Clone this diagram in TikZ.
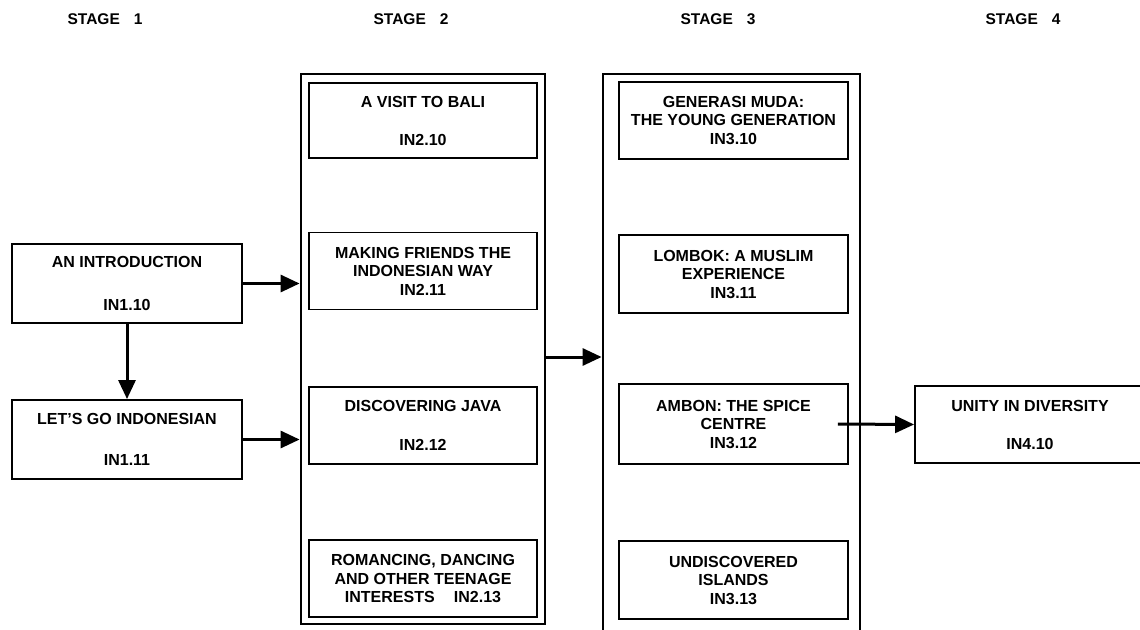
\documentclass[tikz,border=0pt]{standalone}
\usepackage{fontspec}
\setmainfont{Liberation Sans}
\usetikzlibrary{arrows.meta}
\tikzset{
	unit/.style={draw, line width=1.9pt, minimum width=228pt, minimum height=77pt, inner sep=0pt, align=center, font=\fontsize{16}{18.5}\selectfont\bfseries},
	stagebox/.style={draw, line width=2.8pt, inner sep=0pt},
	link/.style={line width=3pt, -{Triangle[length=19pt,width=17pt]}},
}
\begin{document}
\begin{tikzpicture}[x=1pt,y=-1pt]
	\useasboundingbox (0,0) rectangle (1140,629);
	\foreach \n/\x in {1/105,2/411,3/718,4/1023}{
		\node[font=\fontsize{15.5}{18}\selectfont\bfseries] (stage\n) at (\x,19) {STAGE\hspace{0.9em}\n};
	}
	% stage 1
	\node[unit, minimum width=230pt, minimum height=79pt] (intro) at (127,283.5) {AN INTRODUCTION\\[25pt]IN1.10};
	\node[unit, minimum width=230pt, minimum height=79pt] (letsgo) at (127,439.5) {LET'S GO INDONESIAN\\[22pt]IN1.11};
	% stage 2
	\node[stagebox, minimum width=244pt, minimum height=550pt] (stagetwo) at (423,349) {};
	\node[unit, minimum height=75pt] (bali) at (423,120.5) {A VISIT TO BALI\\[19.5pt]IN2.10};
	\node[unit] (friends) at (423,271) {MAKING FRIENDS THE\\INDONESIAN WAY\\IN2.11};
	\node[unit] (java) at (423,425.5) {DISCOVERING JAVA\\[20pt]IN2.12};
	\node[unit] (romance) at (423,578.5) {ROMANCING, DANCING\\AND OTHER TEENAGE\\INTERESTS\hspace{1.2em}IN2.13};
	% stage 3, runs off the bottom of the page
	\node[stagebox, minimum width=257pt, minimum height=620pt] (stagethree) at (731.5,384) {};
	\node[unit, minimum width=229pt] (muda) at (733.5,120.5) {GENERASI MUDA:\\THE YOUNG GENERATION\\IN3.10};
	\node[unit, minimum width=229pt, minimum height=78pt] (lombok) at (733.5,274) {LOMBOK: A MUSLIM\\EXPERIENCE\\IN3.11};
	\node[unit, minimum width=229pt, minimum height=80pt] (ambon) at (733.5,424) {AMBON: THE SPICE\\CENTRE\\IN3.12};
	\node[unit, minimum width=229pt, minimum height=78pt] (islands) at (733.5,580) {UNDISCOVERED\\ISLANDS\\IN3.13};
	% stage 4, runs off the right edge
	\node[unit, minimum width=230pt] (unity) at (1030,424.5) {UNITY IN DIVERSITY\\[19.5pt]IN4.10};
	% links
	\draw[link] (intro) -- (letsgo);
	\draw[link] (intro.east) -- (intro.east -| stagetwo.west);
	\draw[link] (letsgo.east) -- (letsgo.east -| stagetwo.west);
	\draw[link] ([yshift=-8pt]stagetwo.east) -- ([yshift=-8pt]stagetwo.east -| stagethree.west);
	\draw[link] ([xshift=-11pt]ambon.east) -- (unity.west);
\end{tikzpicture}
\end{document}
